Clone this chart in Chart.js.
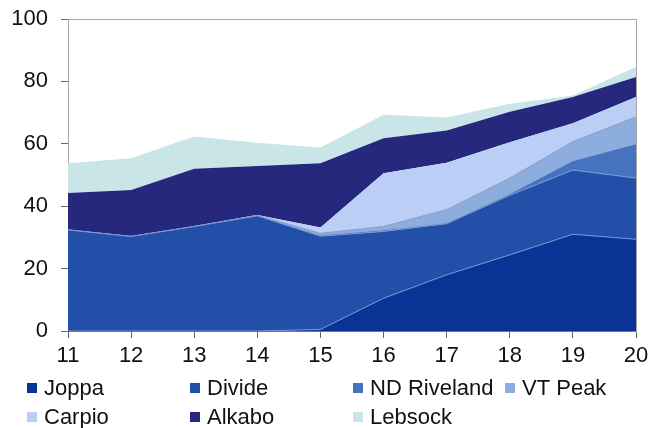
<!DOCTYPE html>
<html><head><meta charset="utf-8">
<script src="https://cdn.jsdelivr.net/npm/chart.js@4.4.0/dist/chart.umd.min.js"></script>
<style>html,body{margin:0;padding:0;background:#fff}#wrap{width:650px;height:428px;position:relative}</style>
</head><body><div id="wrap"><canvas id="c" width="650" height="428"></canvas></div>
<script>
const categories = ['11','12','13','14','15','16','17','18','19','20'];
const joppa     = [0, 0, 0, 0, 0.5, 10.5, 18, 24.4, 31, 29.4];
const divide    = [32.4, 30.3, 33.5, 36.9, 29.9, 21.4, 16.4, 19.1, 20.6, 19.6];
const ndRiveland= [0, 0, 0, 0.1, 0.4, 0.5, 0.3, 0.5, 3, 11];
const vtPeak    = [0, 0, 0, 0.1, 0.5, 1.1, 4.2, 5, 6.1, 8.6];
const carpio    = [0, 0, 0, 0.1, 1.9, 17.1, 15, 11.5, 5.9, 6.4];
const alkabo    = [11.8, 14.9, 18.5, 15.7, 20.6, 11.2, 10.4, 9.8, 8.4, 6.4];
const lebsock   = [9.6, 10.2, 10.3, 7.4, 5, 7.5, 4.1, 2.5, 0.5, 3.3];
const seriesNames = ['Joppa','Divide','ND Riveland','VT Peak','Carpio','Alkabo','Lebsock'];
const yTickValues = [0, 20, 40, 60, 80, 100];

const seriesData = [joppa, divide, ndRiveland, vtPeak, carpio, alkabo, lebsock];
const fills   = ['#0A3396','#2250A8','#4672BF','#8EADDF','#BACEF6','#26287E','#CAE5E7'];
const borders = ['#7396DA','#7E9BD6','#8FA9D9','#8A9CC0','#BACEF6','#26287E','#CAE5E7'];
const FONT = {family: '"Liberation Sans", Arial, sans-serif', size: 22};

const datasets = seriesData.map((d, i) => ({
  label: seriesNames[i],
  data: d,
  backgroundColor: fills[i],
  borderColor: borders[i],
  borderWidth: (i < 4) ? 1 : 0,
  pointRadius: 0,
  tension: 0,
  fill: i === 0 ? 'origin' : '-1'
}));

const frame = {
  id: 'frame',
  beforeDatasetsDraw(chart) {
    const {ctx, chartArea: a} = chart;
    ctx.save();
    ctx.strokeStyle = '#a8a8a8';
    ctx.lineWidth = 1;
    ctx.strokeRect(a.left + 0.5, a.top + 0.5, a.right - a.left, a.bottom - a.top);
    ctx.restore();
  },
  afterDatasetsDraw(chart) {
    const {ctx, chartArea: a} = chart;
    ctx.save();
    ctx.strokeStyle = '#777';
    ctx.lineWidth = 1;
    ctx.beginPath();
    ctx.moveTo(a.left, a.bottom + 0.5);
    ctx.lineTo(a.right, a.bottom + 0.5);
    ctx.stroke();
    ctx.restore();
  }
};

const legendPos = [[27,388],[190,388],[353,388],[505,388],[27,417],[190,417],[353,417]];
const customLegend = {
  id: 'customLegend',
  afterDraw(chart) {
    const ctx = chart.ctx;
    ctx.save();
    ctx.font = `${FONT.size}px ${FONT.family}`;
    ctx.textBaseline = 'middle';
    ctx.textAlign = 'left';
    chart.data.datasets.forEach((ds, i) => {
      const [x, y] = legendPos[i];
      ctx.fillStyle = ds.backgroundColor;
      ctx.fillRect(x, y - 5, 10, 10);
      ctx.fillStyle = '#111';
      ctx.fillText(ds.label, x + 17, y + 1);
    });
    ctx.restore();
  }
};

new Chart(document.getElementById('c'), {
  type: 'line',
  data: {labels: categories, datasets},
  options: {
    responsive: false,
    animation: false,
    layout: {padding: {top: 19, right: 14, bottom: 60, left: 0}},
    plugins: {legend: {display: false}, tooltip: {enabled: false}},
    scales: {
      x: {
        type: 'category',
        offset: false,
        grid: {display: true, drawOnChartArea: false, drawTicks: true, tickLength: 7, color: '#666'},
        border: {display: true, color: '#777'},
        ticks: {font: FONT, color: '#111', padding: 5, maxRotation: 0, autoSkip: false},
        afterFit: s => { s.height = 37; s.paddingLeft = 0; s.paddingRight = 0; }
      },
      y: {
        stacked: true,
        min: 0, max: 100,
        afterBuildTicks: s => { s.ticks = yTickValues.map(v => ({value: v})); },
        grid: {display: true, drawOnChartArea: false, drawTicks: true, tickLength: 7, color: '#666'},
        border: {display: true, color: '#888'},
        ticks: {font: FONT, color: '#111', padding: 13},
        afterFit: s => { s.width = 68; s.paddingTop = 0; s.paddingBottom = 0; }
      }
    }
  },
  plugins: [frame, customLegend]
});
</script>
</body></html>
